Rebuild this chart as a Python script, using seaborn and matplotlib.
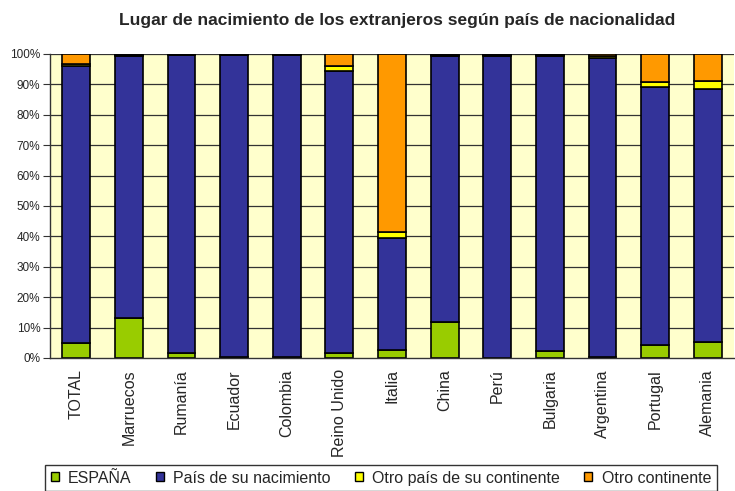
import matplotlib
matplotlib.use("Agg")
import matplotlib.pyplot as plt
import seaborn as sns
import pandas as pd
import numpy as np
from matplotlib.patches import Patch
from matplotlib.ticker import PercentFormatter

sns.set_theme(style="white")
plt.rcParams['font.family'] = ['Liberation Sans', 'DejaVu Sans']
plt.rcParams['axes.grid'] = False

# data (percent of foreigners by birthplace)
paises = ['TOTAL', 'Marruecos', 'Rumanía', 'Ecuador', 'Colombia', 'Reino Unido',
          'Italia', 'China', 'Perú', 'Bulgaria', 'Argentina', 'Portugal', 'Alemania']
espana = [4.8, 13.1, 1.8, 0.4, 0.2, 1.8, 2.7, 12.0, 0.1, 2.3, 0.2, 4.3, 5.2]
pais_nac = [91.2, 86.2, 97.9, 99.3, 99.6, 92.7, 36.7, 87.4, 99.4, 97.2, 98.6, 85.0, 83.4]
otro_pais = [0.6, 0.3, 0.1, 0.1, 0.1, 1.5, 1.9, 0.2, 0.2, 0.2, 0.4, 1.5, 2.6]
otro_cont = [3.4, 0.4, 0.2, 0.2, 0.1, 4.0, 58.7, 0.4, 0.3, 0.3, 0.8, 9.2, 8.8]

series = ['ESPAÑA', 'País de su nacimiento', 'Otro país de su continente', 'Otro continente']
colores = ['#99CC00', '#333399', '#FFFF00', '#FF9900']

df = pd.DataFrame({'pais': paises, series[0]: espana, series[1]: pais_nac,
                   series[2]: otro_pais, series[3]: otro_cont})

fig = plt.figure(figsize=(7.35, 4.91), dpi=100)
ax = fig.add_axes([50/735, 1 - 358/491, 684/735, 304/491])
ax.set_facecolor('#FFFFCC')

bottom = np.zeros(len(df))
for s, c in zip(series, colores):
    sns.barplot(x=df['pais'], y=df[s], bottom=bottom, color=c, width=0.53,
                edgecolor='black', linewidth=1.2, saturation=1, errorbar=None, ax=ax)
    bottom = bottom + df[s].values

ax.set_ylim(0, 100)
ax.set_xlim(-0.5, len(paises) - 0.5)
ax.set_yticks(range(0, 101, 10))
ax.yaxis.set_major_formatter(PercentFormatter(decimals=0))
ax.set_xlabel('')
ax.set_ylabel('')

# horizontal gridlines only
for v in range(10, 101, 10):
    ax.axhline(v, color='#333333', linewidth=0.9, zorder=0)

# category labels at bar centres, no tick marks
n = len(paises)
ax.set_xticks(np.arange(n))
ax.set_xticklabels(paises, rotation=90, fontsize=11.5)
ax.tick_params(axis='x', which='both', bottom=False, length=0, pad=8)
ax.tick_params(axis='y', left=True, length=5, width=0.8, color='#333333', labelsize=8.5, pad=2)
ax.xaxis.grid(False, which='both')
ax.yaxis.grid(False, which='both')

for side in ['top', 'right']:
    ax.spines[side].set_visible(False)
for side in ['left', 'bottom']:
    ax.spines[side].set_color('#333333')
    ax.spines[side].set_linewidth(1)

fig.text(397/735, 1 - 20/491, 'Lugar de nacimiento de los extranjeros según país de nacionalidad',
         ha='center', va='center', fontsize=12.5, fontweight='bold')

handles = [Patch(facecolor=c, edgecolor='black', linewidth=1) for c in colores]
leg = fig.legend(handles, series, loc='upper left', bbox_to_anchor=(45/735, 1 - 465/491),
                 ncol=4, frameon=True, fontsize=11.5, handlelength=0.5, handleheight=0.5,
                 handletextpad=0.6, columnspacing=1.5, borderpad=0.35, borderaxespad=0,
                 fancybox=False)
leg.get_frame().set_edgecolor('black')
leg.get_frame().set_linewidth(1)

fig.savefig('out.png', dpi=100)
